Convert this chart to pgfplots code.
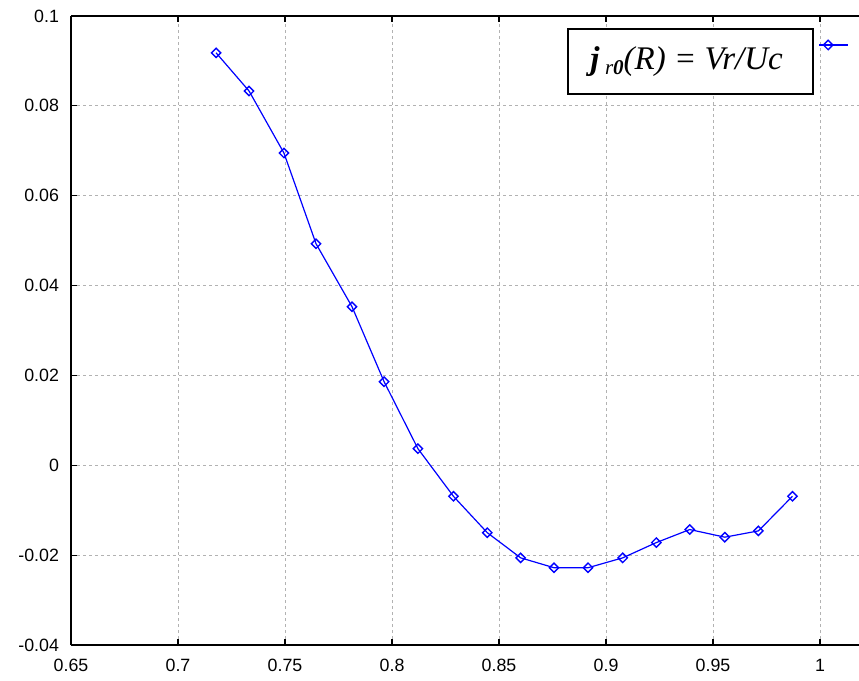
\documentclass[border=0pt]{standalone}
\usepackage{pgfplots}
\pgfplotsset{compat=1.18}
\usepackage{fontspec}
\setmainfont{Liberation Sans}
\newfontfamily\timesfont{Liberation Serif}
\usetikzlibrary{calc}

\begin{document}
\begin{tikzpicture}
\begin{axis}[
    scale only axis,
    width=394pt, height=314.5pt,
    xmin=0.65, xmax=1.0182,
    ymin=-0.04, ymax=0.1,
    axis x line*=box, axis y line*=left,
    axis line style={line width=0.9pt, black},
    tick align=inside,
    major tick length=3pt,
    tick style={black, line width=0.6pt},
    xtick={0.65,0.7,0.75,0.8,0.85,0.9,0.95,1},
    xticklabels={0.65,0.7,0.75,0.8,0.85,0.9,0.95,1},
    ytick={-0.04,-0.02,0,0.02,0.04,0.06,0.08,0.1},
    yticklabels={-0.04,-0.02,0,0.02,0.04,0.06,0.08,0.1},
    ticklabel style={font=\fontsize{8.9}{10}\selectfont},
    yticklabel style={xshift=-2.5pt},
    xticklabel style={yshift=-3.5pt},
    grid=major,
    grid style={dash pattern=on 1.5pt off 1.5pt, color=black!30, line width=0.5pt},
    legend style={draw=none, fill=none, inner sep=0pt, nodes={inner sep=0pt},
        at={(axis cs:0.9991,0.09355)}, anchor=west},
    legend image code/.code={
        \draw[#1,mark=none] (0pt,0pt) -- (14.5pt,0pt);
        \path[#1] plot coordinates {(4.5pt,0pt)};
    },
]
\addplot[blue, line width=0.6pt, mark=square, mark size=1.65pt,
    mark options={fill=white, line width=0.7pt, rotate=45}]
    coordinates {
    (0.7178,0.0918) (0.7332,0.0833) (0.7495,0.0695) (0.7645,0.0493)
    (0.7813,0.0353) (0.7963,0.0186) (0.8121,0.0037) (0.8287,-0.0069)
    (0.8445,-0.0150) (0.8601,-0.0206) (0.8757,-0.0228) (0.8916,-0.0228)
    (0.9078,-0.0206) (0.9235,-0.0172) (0.9391,-0.0143) (0.9555,-0.0160)
    (0.9712,-0.0146) (0.9871,-0.0069)
    };
\addlegendentry{}
\node[draw=black, line width=1pt, fill=white, minimum width=122.5pt,
    minimum height=32.5pt, inner sep=0pt, font=\timesfont\fontsize{16.5}{19}\selectfont]
    at (axis cs:0.9395,0.0899)
    {\hspace*{-4pt}{\bfseries\itshape j}\,\raisebox{-0.35ex}{\fontsize{10.5}{11}\selectfont\itshape r\bfseries 0}\itshape(R) = Vr/Uc};
\end{axis}
\pgfresetboundingbox
\path[use as bounding box] ($(current axis.south west)+(-35.5pt,-17.5pt)$)
    rectangle ($(current axis.north east)+(0pt,8pt)$);
\end{tikzpicture}
\end{document}
